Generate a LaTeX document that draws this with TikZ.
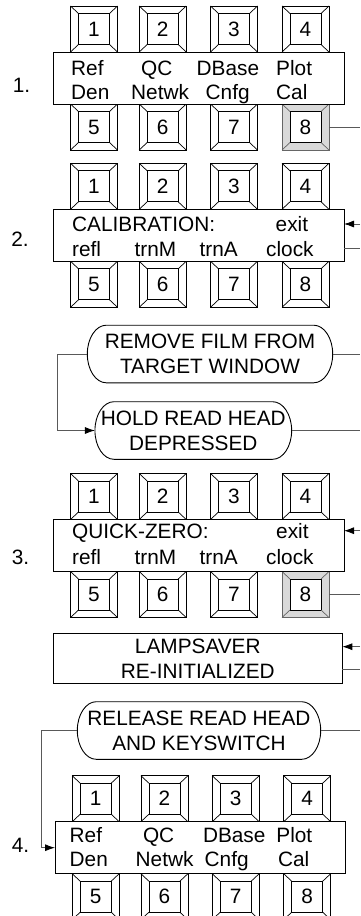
\documentclass[tikz,border=0pt]{standalone}
\usepackage{fontspec}
\setmainfont{Liberation Sans}
\usepackage{tikz}
\usetikzlibrary{arrows.meta,positioning,calc}
\newcommand{\keyfont}{\fontsize{20.8}{25}\selectfont}
\tikzset{
  keyframe/.style={line width=0.8pt,minimum width=47pt,minimum height=46pt,
    inner sep=0pt,outer sep=0pt},
  keyface/.style={draw=black,fill=white,line width=0.8pt,minimum size=31pt,
    inner sep=0pt,outer sep=0pt,font=\keyfont},
  keybevel/.style={line width=0.7pt},
  displaybox/.style={draw=black,fill=white,line width=1pt,minimum width=290.7pt,
    minimum height=52pt,inner sep=0pt,outer sep=0pt},
  displaytext/.style={anchor=base west,inner sep=0pt,font=\keyfont},
  stepnumber/.style={inner sep=0pt,font=\keyfont},
  promptoval/.style={align=center,inner sep=0pt,outer sep=0pt,
    minimum height=57.6pt,font=\keyfont},
  ovalline/.style={draw=black,line width=0.9pt},
  messagebox/.style={draw=black,line width=1pt,align=center,inner sep=0pt,
    outer sep=0pt,minimum width=289pt,minimum height=50pt,font=\keyfont},
  flowline/.style={draw=black!65,line width=0.8pt},
  flowarrow/.style={flowline,-{Latex[length=10pt,width=7pt,color=black]}}
}
% one key: name, x, y, digit, line colour, bevel fill
\newcommand{\keycap}[6]{%
  \node[keyframe,draw=#5,fill=#6] (#1) at (#2,#3) {};
  \node[keyface] (#1f) at (#2,#3) {#4};
  \draw[keybevel,draw=#5] (#1.north west) -- (#1f.north west)
    (#1.north east) -- (#1f.north east)
    (#1.south west) -- (#1f.south west)
    (#1.south east) -- (#1f.south east);}
% rounded outline round a prompt node
\newcommand{\ovalframe}[1]{%
  \draw[ovalline] ($(#1.north east)+(-19pt,0pt)$)
    arc[start angle=90,end angle=-90,x radius=19pt,y radius=28.8pt]
    -- ($(#1.south west)+(19pt,0pt)$)
    arc[start angle=270,end angle=90,x radius=19pt,y radius=28.8pt] -- cycle;}

\begin{document}
\begin{tikzpicture}[x=1pt,y=-1pt]
  \useasboundingbox (0,0) rectangle (360,916);

  % step 1: main menu, key 8 pressed
  \foreach \d/\kx in {1/94,2/162.7,3/234,4/305.5}
    {\keycap{keyA\d}{\kx}{29}{\d}{black}{white}}
  \foreach \d/\kx/\lc/\fc in {5/94/black/white,6/162.7/black/white,
      7/234/black/white,8/305.5/black!60/black!15}
    {\keycap{keyA\d}{\kx}{127}{\d}{\lc}{\fc}}
  \node[displaybox] (dispA) at (198.65,78) {};
  \node[displaytext] (refA) at (71,75) {Ref};
  \node[displaytext] (qcA) at (141,75) {QC};
  \node[displaytext] (dbaseA) at (196.5,75) {DBase};
  \node[displaytext] (plotA) at (276,75) {Plot};
  \node[displaytext] (denA) at (71,99) {Den};
  \node[displaytext] (netwkA) at (131,99) {Netwk};
  \node[displaytext] (cnfgA) at (205.5,99) {Cnfg};
  \node[displaytext] (calA) at (276,99) {Cal};
  \node[stepnumber] (stepA) at (21.5,85) {1.};

  % step 2: calibration menu
  \foreach \d/\kx in {1/94,2/162.7,3/234,4/305.5}
    {\keycap{keyB\d}{\kx}{186.3}{\d}{black}{white}}
  \foreach \d/\kx in {5/94,6/162.7,7/234,8/305.5}
    {\keycap{keyB\d}{\kx}{284.3}{\d}{black}{white}}
  \node[displaybox] (dispB) at (198.65,235.3) {};
  \node[displaytext] (calibB) at (72,231.7) {CALIBRATION:};
  \node[displaytext] (exitB) at (275.5,231.7) {exit};
  \node[displaytext] (reflB) at (72,256.7) {refl};
  \node[displaytext] (trnmB) at (134.5,256.7) {trnM};
  \node[displaytext] (trnaB) at (199.5,256.7) {trnA};
  \node[displaytext] (clockB) at (266,256.7) {clock};
  \node[stepnumber] (stepB) at (20,239) {2.};

  % operator prompts
  \node[promptoval,minimum width=245.4pt] (remove) at (210,354)
    {REMOVE FILM FROM\\TARGET WINDOW};
  \ovalframe{remove}
  \node[promptoval,minimum width=196.7pt] (hold) at (193.3,430.5)
    {HOLD READ HEAD\\DEPRESSED};
  \ovalframe{hold}

  % step 3: quick-zero menu, key 8 pressed
  \foreach \d/\kx in {1/94,2/162.7,3/234,4/305.5}
    {\keycap{keyC\d}{\kx}{496.5}{\d}{black}{white}}
  \foreach \d/\kx/\lc/\fc in {5/94/black/white,6/162.7/black/white,
      7/234/black/white,8/305.5/black!60/black!15}
    {\keycap{keyC\d}{\kx}{594.5}{\d}{\lc}{\fc}}
  \node[displaybox] (dispC) at (198.65,545.5) {};
  \node[displaytext] (zeroC) at (72,538.3) {QUICK-ZERO:};
  \node[displaytext] (exitC) at (276,538.3) {exit};
  \node[displaytext] (reflC) at (72,564.3) {refl};
  \node[displaytext] (trnmC) at (134.5,564.3) {trnM};
  \node[displaytext] (trnaC) at (199.5,564.3) {trnA};
  \node[displaytext] (clockC) at (266,564.3) {clock};
  \node[stepnumber] (stepC) at (20.5,557) {3.};

  \node[messagebox] (lamp) at (197.8,658.3) {LAMPSAVER\\RE-INITIALIZED};
  \node[promptoval,minimum width=243.4pt] (release) at (199,730.5)
    {RELEASE READ HEAD\\AND KEYSWITCH};
  \ovalframe{release}

  % step 4: back at the main menu
  \foreach \d/\kx in {1/95.7,2/164.4,3/235.7,4/307.2}
    {\keycap{keyD\d}{\kx}{798.7}{\d}{black}{white}}
  \foreach \d/\kx in {5/95.7,6/164.4,7/235.7,8/307.2}
    {\keycap{keyD\d}{\kx}{896.7}{\d}{black}{white}}
  \node[displaybox] (dispD) at (200.35,847.7) {};
  \node[displaytext] (refD) at (69.5,842.7) {Ref};
  \node[displaytext] (qcD) at (142.8,842.7) {QC};
  \node[displaytext] (dbaseD) at (202.8,842.7) {DBase};
  \node[displaytext] (plotD) at (276.2,842.7) {Plot};
  \node[displaytext] (denD) at (69.5,866.7) {Den};
  \node[displaytext] (netwkD) at (135.5,866.7) {Netwk};
  \node[displaytext] (cnfgD) at (204.5,866.7) {Cnfg};
  \node[displaytext] (calD) at (277.8,866.7) {Cal};
  \node[stepnumber] (stepD) at (20.5,845.5) {4.};

  % free ends on the right edge
  \coordinate (outA) at (360,127);
  \coordinate (inB) at (360,224);
  \coordinate (outB) at (360,248.5);
  \coordinate (outR) at (360,354);
  \coordinate (outH) at (360,430.5);
  \coordinate (inC) at (360,530.7);
  \coordinate (outC) at (360,594.5);
  \coordinate (inL) at (360,646.7);
  \coordinate (outL) at (360,669.3);
  \coordinate (outE) at (360,730.5);

  \draw[flowline] (keyA8.east) -- (outA);
  \draw[flowarrow] (inB) -- (inB -| dispB.east);
  \draw[flowline] (dispB.east |- outB) -- (outB);
  \draw[flowline] (remove.east) -- (outR);
  \draw[flowarrow] (remove.west) -- ++(-30,0) |- (hold.west);
  \draw[flowline] (hold.east) -- (outH);
  \draw[flowarrow] (inC) -- (inC -| dispC.east);
  \draw[flowline] (keyC8.east) -- (outC);
  \draw[flowarrow] (inL) -- (inL -| lamp.east);
  \draw[flowline] (lamp.east |- outL) -- (outL);
  \draw[flowline] (release.east) -- (outE);
  \draw[flowarrow] (release.west) -- ++(-35.6,0) |- (dispD.west);
\end{tikzpicture}
\end{document}
